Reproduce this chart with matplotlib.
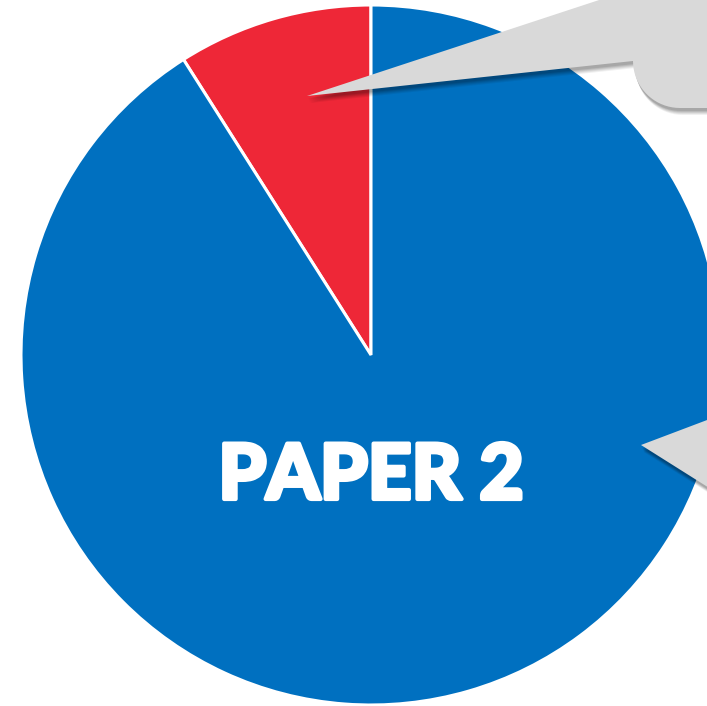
import numpy as np
import matplotlib
matplotlib.use("Agg")
from matplotlib import pyplot as plt
from matplotlib.patches import Polygon
import matplotlib.patheffects as pe

# exam paper split
labels = ["Section A", "Section B"]
shares = [9, 91]
colors = ["#EE2737", "#0070C0"]
title = "PAPER 2"

W, H = 707, 706


def img(pts):
  # pixel coords (y down) -> axes coords (y up)
  return [(x, H - y) for x, y in pts]


def callout(ax, pts):
  # soft drop shadow built from stacked translucent copies
  for i, a in enumerate([0.06, 0.07, 0.08, 0.09, 0.10]):
    off = 7 - i
    sh = Polygon([(x + off * 0.4, y - off) for x, y in pts], closed=True,
                 facecolor="black", edgecolor="none", alpha=a, zorder=3)
    ax.add_patch(sh)
  ax.add_patch(Polygon(pts, closed=True, facecolor="#D9D9D9",
                       edgecolor="none", zorder=4))


fig = plt.figure(figsize=(W / 100, H / 100), dpi=100)
ax = fig.add_axes([0, 0, 1, 1])

ax.pie(shares, colors=colors, startangle=90, counterclock=True,
       center=(371, H - 355), radius=350,
       wedgeprops=dict(edgecolor="white", linewidth=2.2))

# pie() resets the limits, so set them afterwards
ax.set_xlim(0, W)
ax.set_ylim(0, H)
ax.set_aspect("equal")
ax.axis("off")

# top callout: pointer plus rounded body corner
theta = np.linspace(np.pi, np.pi / 2, 20)
corner = [(680 + 47 * np.cos(t), 61 + 47 * np.sin(t)) for t in theta]
top = [(307, 96), (660, -20), (760, -20), (760, 108)] + corner[::-1] + [(633, 61)]
callout(ax, img(top))

# right callout pointer
right = [(641, 445), (760, 400), (760, 520)]
callout(ax, img(right))

ax.text(371, H - 477, title, ha="center", va="center", color="white",
        fontsize=55, fontweight="black", family=["Lato", "DejaVu Sans"],
        zorder=5,
        path_effects=[pe.Stroke(linewidth=3, foreground="white", joinstyle="round"),
                      pe.Normal()])

fig.savefig("out.png", dpi=100)
